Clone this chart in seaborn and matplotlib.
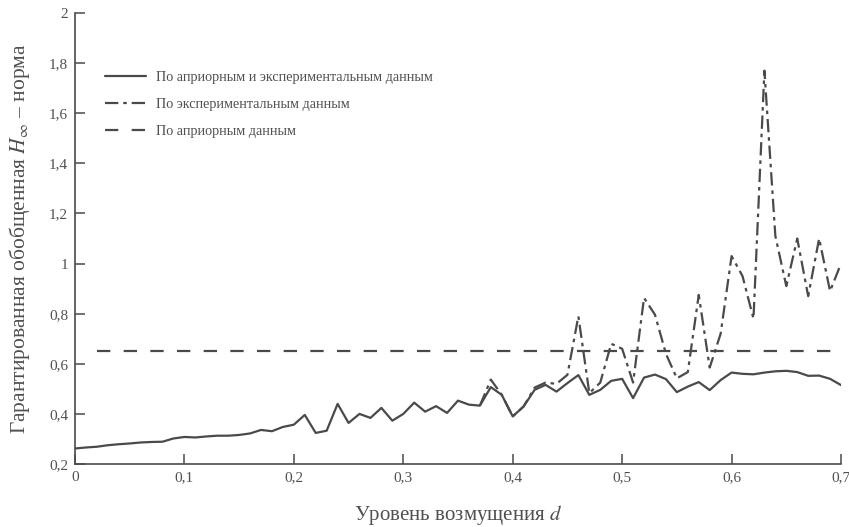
import numpy as np
import pandas as pd
import matplotlib
matplotlib.use("Agg")
import matplotlib.pyplot as plt
import seaborn as sns
from matplotlib.ticker import FuncFormatter, MultipleLocator

# disturbance level d, step 0.01
d = [0.00, 0.01, 0.02, 0.03, 0.04, 0.05, 0.06, 0.07, 0.08, 0.09,
     0.10, 0.11, 0.12, 0.13, 0.14, 0.15, 0.16, 0.17, 0.18, 0.19,
     0.20, 0.21, 0.22, 0.23, 0.24, 0.25, 0.26, 0.27, 0.28, 0.29,
     0.30, 0.31, 0.32, 0.33, 0.34, 0.35, 0.36, 0.37, 0.38, 0.39,
     0.40, 0.41, 0.42, 0.43, 0.44, 0.45, 0.46, 0.47, 0.48, 0.49,
     0.50, 0.51, 0.52, 0.53, 0.54, 0.55, 0.56, 0.57, 0.58, 0.59,
     0.60, 0.61, 0.62, 0.63, 0.64, 0.65, 0.66, 0.67, 0.68, 0.69,
     0.70]

# a priori + experimental data
both = [0.262, 0.266, 0.269, 0.275, 0.279, 0.282, 0.286, 0.288, 0.289, 0.302,
        0.308, 0.306, 0.310, 0.313, 0.313, 0.316, 0.322, 0.336, 0.331, 0.348,
        0.357, 0.396, 0.324, 0.333, 0.440, 0.364, 0.400, 0.384, 0.424, 0.373,
        0.400, 0.445, 0.409, 0.431, 0.404, 0.453, 0.437, 0.433, 0.507, 0.476,
        0.390, 0.430, 0.496, 0.516, 0.489, 0.523, 0.555, 0.476, 0.496, 0.532,
        0.540, 0.463, 0.545, 0.557, 0.539, 0.487, 0.509, 0.527, 0.495, 0.535,
        0.565, 0.560, 0.558, 0.565, 0.570, 0.572, 0.567, 0.552, 0.553, 0.540,
        0.515]

# experimental data only (from d = 0.37, coincides with the solid line before)
d_exp = [0.37, 0.38, 0.39, 0.40, 0.41, 0.42, 0.43, 0.44, 0.45, 0.46,
         0.47, 0.48, 0.49, 0.50, 0.51, 0.52, 0.53, 0.54, 0.55, 0.56,
         0.57, 0.58, 0.59, 0.60, 0.61, 0.62, 0.63, 0.64, 0.65, 0.66,
         0.67, 0.68, 0.69, 0.70]
exp_only = [0.433, 0.537, 0.476, 0.390, 0.430, 0.505, 0.525, 0.520, 0.556, 0.790,
            0.483, 0.525, 0.680, 0.660, 0.525, 0.863, 0.796, 0.640, 0.542, 0.567,
            0.875, 0.585, 0.720, 1.030, 0.950, 0.780, 1.770, 1.110, 0.910, 1.100,
            0.870, 1.100, 0.890, 1.000]

# a priori data only
d_apr = [0.02, 0.70]
apriori = [0.65, 0.65]

labels = ["По априорным и экспериментальным данным",
          "По экспериментальным данным",
          "По априорным данным"]

sns.set_theme(style="ticks")
plt.rcParams["font.family"] = ["Liberation Serif", "DejaVu Serif"]
plt.rcParams["mathtext.fontset"] = "stix"

line_col = "#4a4a4a"
text_col = "#505050"

fig = plt.figure(figsize=(8.49, 5.27), dpi=100)
ax = fig.add_axes([0.0883, 0.1195, 0.9023, 0.8558])

sns.lineplot(x=d_exp, y=exp_only, ax=ax, color=line_col, lw=1.6,
             linestyle=(0, (6, 2.2, 1.6, 2.2)), label=labels[1])
sns.lineplot(x=d_apr, y=apriori, ax=ax, color=line_col, lw=1.6,
             linestyle=(0, (6, 6)), label=labels[2])
sns.lineplot(x=d, y=both, ax=ax, color=line_col, lw=1.6, label=labels[0])

ax.set_xlim(0, 0.7)
ax.set_ylim(0.2, 2)
ax.xaxis.set_major_locator(MultipleLocator(0.1))
ax.yaxis.set_major_locator(MultipleLocator(0.2))
fmt = FuncFormatter(lambda v, p: ("%g" % round(v, 2)).replace(".", ","))
ax.xaxis.set_major_formatter(fmt)
ax.yaxis.set_major_formatter(fmt)
ax.tick_params(direction="in", length=7, width=1.1, colors=line_col,
               labelsize=11, labelcolor=text_col, pad=5)
sns.despine(ax=ax)
for s in ("left", "bottom"):
    ax.spines[s].set_color(line_col)
    ax.spines[s].set_linewidth(1.2)

ax.set_xlabel("Уровень возмущения $d$", fontsize=15, color=text_col, labelpad=14)
ax.set_ylabel("Гарантированная обобщенная $H_{\\infty}$ – норма", fontsize=15.5,
              color=text_col, labelpad=12)

h, l = ax.get_legend_handles_labels()
order = [l.index(t) for t in labels]
leg = ax.legend([h[i] for i in order], [l[i] for i in order], loc="upper left",
                bbox_to_anchor=(0.039, 0.872), frameon=False, fontsize=10.2,
                handlelength=2.9, handletextpad=0.7, labelspacing=1.0,
                borderpad=0, borderaxespad=0)
for t in leg.get_texts():
    t.set_color(text_col)

fig.savefig("out.png", dpi=100)
